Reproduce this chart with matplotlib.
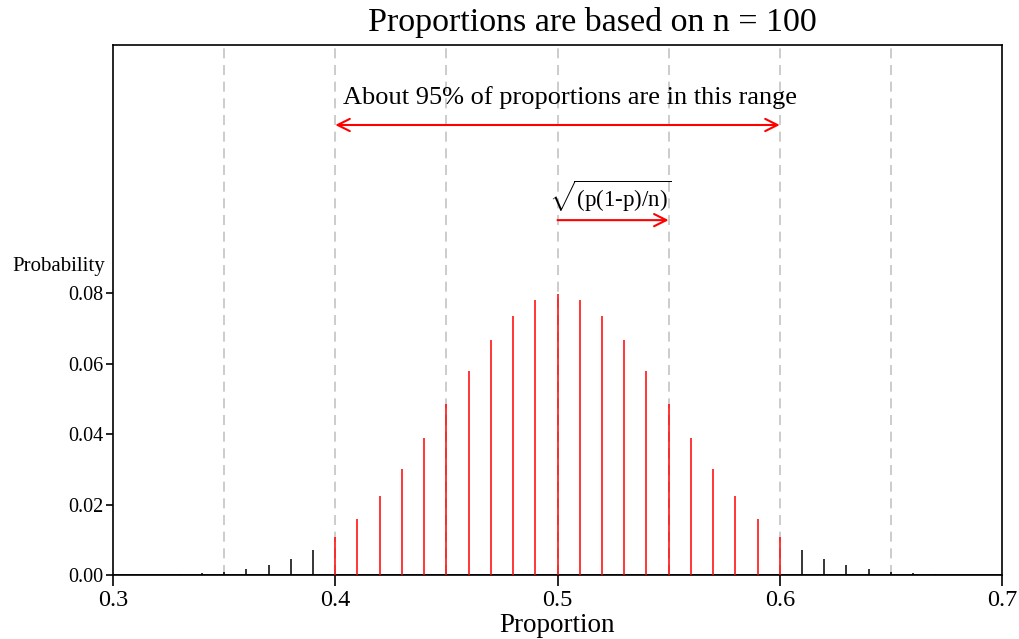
import matplotlib
matplotlib.use('Agg')
import matplotlib.pyplot as plt

plt.rcParams['font.family'] = ['Liberation Serif', 'DejaVu Serif']
plt.rcParams['mathtext.fontset'] = 'custom'
plt.rcParams['mathtext.rm'] = 'Liberation Serif'

# ── Data: binomial spikes for sample proportions, n = 100 ─────────────────
proportions = [0.30, 0.31, 0.32, 0.33, 0.34, 0.35, 0.36, 0.37, 0.38, 0.39,
               0.40, 0.41, 0.42, 0.43, 0.44, 0.45, 0.46, 0.47, 0.48, 0.49,
               0.50, 0.51, 0.52, 0.53, 0.54, 0.55, 0.56, 0.57, 0.58, 0.59,
               0.60, 0.61, 0.62, 0.63, 0.64, 0.65, 0.66, 0.67, 0.68, 0.69, 0.70]
probabilities = [0.00002, 0.00005, 0.0001, 0.0002, 0.0005, 0.0009, 0.0016, 0.0027, 0.0045, 0.0071,
                 0.0108, 0.0159, 0.0223, 0.0301, 0.0390, 0.0485, 0.0580, 0.0666, 0.0735, 0.0780,
                 0.0796, 0.0780, 0.0735, 0.0666, 0.0580, 0.0485, 0.0390, 0.0301, 0.0223, 0.0159,
                 0.0108, 0.0071, 0.0045, 0.0027, 0.0016, 0.0009, 0.0005, 0.0002, 0.0001, 0.00005, 0.00002]
range_lo, range_hi = 0.40, 0.60
p_center, se = 0.50, 0.05
guide_lines = [0.35, 0.40, 0.45, 0.50, 0.55, 0.60, 0.65]
x_ticks = [0.3, 0.4, 0.5, 0.6, 0.7]
y_ticks = [0.00, 0.02, 0.04, 0.06, 0.08]

fig = plt.figure(figsize=(10.19, 6.39), dpi=100)
ax = fig.add_axes([113 / 1019, 1 - 575 / 639, (1002 - 113) / 1019, (575 - 45) / 639])

for g in guide_lines:
    ax.axvline(g, color='#c4c4c4', lw=1.2, ls=(0, (6, 4)), zorder=1)

colors = ['red' if range_lo - 1e-9 <= x <= range_hi + 1e-9 else 'black' for x in proportions]
ax.vlines(proportions, 0, probabilities, colors=colors, lw=1.1, zorder=3)
ax.axhline(0, color='black', lw=1.2, zorder=2)

ax.set_xlim(0.3, 0.7)
ax.set_ylim(0, 0.1504)
ax.set_xticks(x_ticks)
ax.set_xticklabels([f'{t:.1f}' for t in x_ticks], fontsize=17.5)
ax.set_yticks(y_ticks)
ax.set_yticklabels([f'{t:.2f}' for t in y_ticks], fontsize=14.5)
ax.tick_params(axis='x', direction='out', length=8, width=1.2, pad=3)
ax.tick_params(axis='y', direction='out', length=5, width=1.2, pad=2)
for s in ax.spines.values():
    s.set_linewidth(1.2)

ax.set_xlabel('Proportion', fontsize=19.5, labelpad=1)
fig.text(12 / 1019, 1 - 266 / 639, 'Probability', fontsize=15, ha='left', va='center')
fig.text(592 / 1019, 1 - 22 / 639, 'Proportions are based on n = 100',
         fontsize=24.5, ha='center', va='center')

# 95% range arrow
ax.annotate('', xy=(range_lo, 0.1277), xytext=(range_hi, 0.1277),
            arrowprops=dict(arrowstyle='<->', color='red', lw=1.5,
                            mutation_scale=22, shrinkA=0, shrinkB=0))
ax.text(0.5056, 0.1355, 'About 95% of proportions are in this range',
        fontsize=19, ha='center', va='center')

# standard error arrow
ax.annotate('', xy=(p_center + se, 0.1007), xytext=(p_center, 0.1007),
            arrowprops=dict(arrowstyle='->', color='red', lw=1.5,
                            mutation_scale=22, shrinkA=0, shrinkB=0))
ax.text(p_center - 0.004, 0.1075, r'$\sqrt{\mathrm{(p(1}\text{-}\mathrm{p)/n)}}$',
        fontsize=16.5, ha='left', va='center')

fig.savefig('out.png', dpi=100)
